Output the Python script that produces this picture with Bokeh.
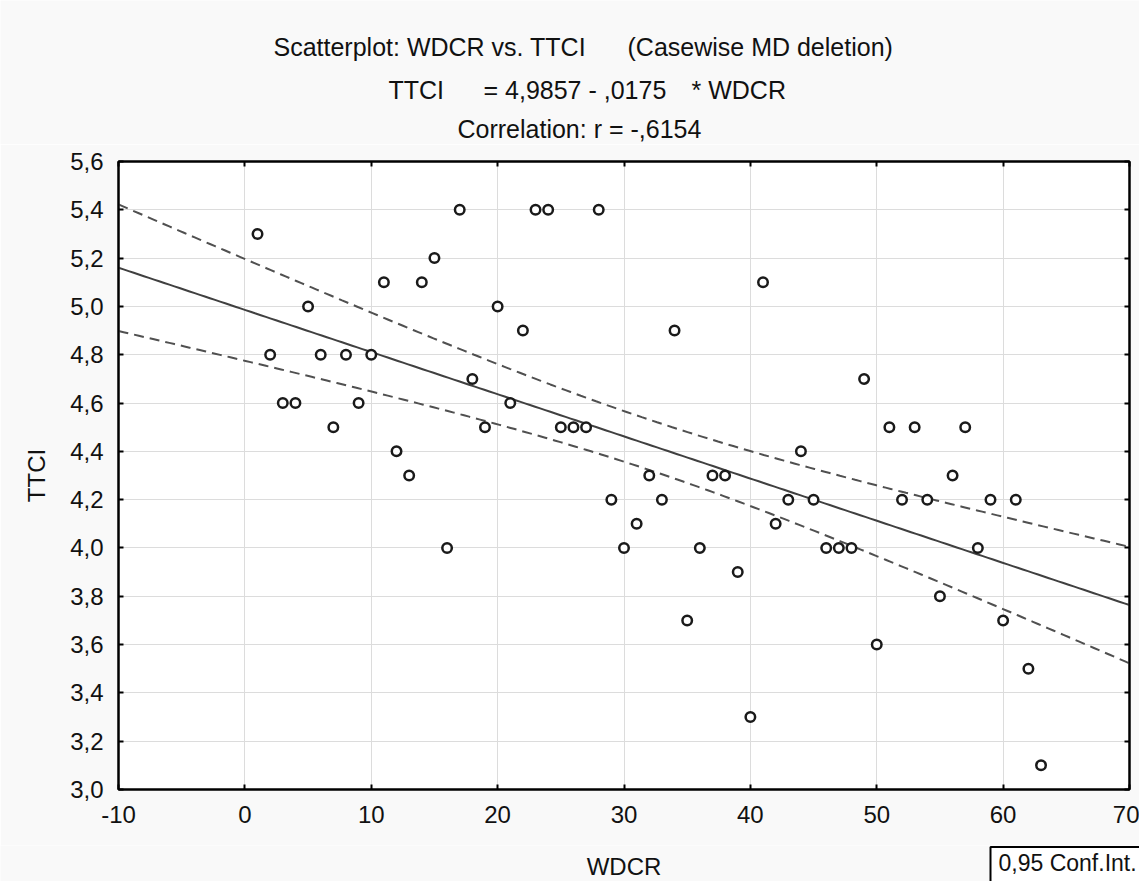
import numpy as np
from bokeh.plotting import figure
from bokeh.layouts import column
from bokeh.models import Label, LinearAxis, FixedTicker, Range1d, CustomJSTickFormatter
from bokeh.embed import file_html
from bokeh.resources import INLINE

# ---------------- data ----------------
wdcr = [1, 2, 3, 4, 5, 6, 7, 8, 9, 10,
        11, 12, 13, 14, 15, 16, 17, 18, 19, 20,
        21, 22, 23, 24, 25, 26, 27, 28, 29, 30,
        31, 32, 33, 34, 35, 36, 37, 38, 39, 40,
        41, 42, 43, 44, 45, 46, 47, 48, 49, 50,
        51, 52, 53, 54, 55, 56, 57, 58, 59, 60,
        61, 62, 63]
ttci = [5.3, 4.8, 4.6, 4.6, 5.0, 4.8, 4.5, 4.8, 4.6, 4.8,
        5.1, 4.4, 4.3, 5.1, 5.2, 4.0, 5.4, 4.7, 4.5, 5.0,
        4.6, 4.9, 5.4, 5.4, 4.5, 4.5, 4.5, 5.4, 4.2, 4.0,
        4.1, 4.3, 4.2, 4.9, 3.7, 4.0, 4.3, 4.3, 3.9, 3.3,
        5.1, 4.1, 4.2, 4.4, 4.2, 4.0, 4.0, 4.0, 4.7, 3.6,
        4.5, 4.2, 4.5, 4.2, 3.8, 4.3, 4.5, 4.0, 4.2, 3.7,
        4.2, 3.5, 3.1]

x_ticks = [-10, 0, 10, 20, 30, 40, 50, 60, 70]
x_tick_labels = ["-10", "0", "10", "20", "30", "40", "50", "60", "70"]
y_ticks = [3.0, 3.2, 3.4, 3.6, 3.8, 4.0, 4.2, 4.4, 4.6, 4.8, 5.0, 5.2, 5.4, 5.6]
y_tick_labels = ["3,0", "3,2", "3,4", "3,6", "3,8", "4,0", "4,2", "4,4", "4,6",
                 "4,8", "5,0", "5,2", "5,4", "5,6"]

title_1a = "Scatterplot: WDCR vs. TTCI"
title_1b = "(Casewise MD deletion)"
title_2a = "TTCI"
title_2b = "= 4,9857 - ,0175"
title_2c = "* WDCR"
title_3 = "Correlation: r = -,6154"
x_label = "WDCR"
y_label = "TTCI"
legend_label = "0,95 Conf.Int."

# ---------------- layout ----------------
W = 1139
H_TOP, H_MAIN, H_BOT = 144, 701, 36
ML, MR, MT, MB = 118, 10, 17, 56
X0, X1 = -10, 70
Y0, Y1 = 3.0, 5.6
FONT = "Liberation Sans"
TXT = "#111111"
BG = "#f9f9f9"


def text_strip(height, y_top):
    """A bare figure whose data units are the picture's pixels."""
    f = figure(width=W, height=height, y_range=Range1d(y_top + height, y_top),
               output_backend="svg", toolbar_location=None,
               x_axis_type=None, y_axis_type=None, min_border=0,
               background_fill_color=BG, border_fill_color=BG,
               outline_line_color=None)
    f.grid.visible = False
    try:
        f.frame_align = False
        f.x_range = Range1d(0, W)
        free = True
    except Exception:
        f.x_range = Range1d(ML, W - MR)
        free = False
    return f, free


def add_text(fig, txt, px, py, size="25px", align="left", **kw):
    fig.add_layout(Label(x=px, y=py, text=txt, text_font=FONT, text_font_size=size,
                         text_color=TXT, text_align=align, text_baseline="middle", **kw))


# ---- titles ----
top, _ = text_strip(H_TOP, 0)
add_text(top, title_1a, 273, 46.5)
add_text(top, title_1b, 627, 46.5)
add_text(top, title_2a, 388, 89.5)
add_text(top, title_2b, 483, 89.5)
add_text(top, title_2c, 691, 89.5)
add_text(top, title_3, 457, 128)

# ---- main plot ----
p = figure(width=W, height=H_MAIN, x_range=Range1d(X0, X1), y_range=Range1d(Y0, Y1),
           output_backend="svg", toolbar_location=None,
           min_border_left=ML, min_border_right=MR, min_border_top=MT, min_border_bottom=MB,
           background_fill_color="white", border_fill_color=BG,
           outline_line_color="black", outline_line_width=2)

fmt_x = CustomJSTickFormatter(args=dict(t=x_ticks, l=x_tick_labels), code="""
let b = 0; for (let i = 0; i < t.length; i++) { if (Math.abs(t[i]-tick) < Math.abs(t[b]-tick)) b = i; }
return l[b];""")
fmt_y = CustomJSTickFormatter(args=dict(t=y_ticks, l=y_tick_labels), code="""
let b = 0; for (let i = 0; i < t.length; i++) { if (Math.abs(t[i]-tick) < Math.abs(t[b]-tick)) b = i; }
return l[b];""")
blank = CustomJSTickFormatter(code="return '';")

for ax, tk, fm in ((p.xaxis[0], x_ticks, fmt_x), (p.yaxis[0], y_ticks, fmt_y)):
    ax.ticker = FixedTicker(ticks=tk)
    ax.formatter = fm
    ax.minor_tick_line_color = None
    ax.major_tick_in = 5
    ax.major_tick_out = 0
    ax.major_tick_line_width = 2
    ax.major_tick_line_color = "black"
    ax.axis_line_width = 2
    ax.axis_line_color = "black"
    ax.major_label_text_font = FONT
    ax.major_label_text_font_size = "24px"
    ax.major_label_text_color = TXT
    ax.axis_label_text_font = FONT
    ax.axis_label_text_font_size = "24px"
    ax.axis_label_text_font_style = "normal"
    ax.axis_label_text_color = TXT
p.xaxis[0].major_label_standoff = 16
p.yaxis[0].major_label_standoff = 15
p.yaxis[0].axis_label = y_label
p.yaxis[0].axis_label_standoff = 17

top_ax = LinearAxis(ticker=FixedTicker(ticks=x_ticks), formatter=blank,
                    major_tick_in=5, major_tick_out=0, minor_tick_line_color=None,
                    major_tick_line_width=2, axis_line_width=2,
                    major_label_standoff=0, major_label_text_font_size="1px")
right_ax = LinearAxis(ticker=FixedTicker(ticks=y_ticks), formatter=blank,
                      major_tick_in=5, major_tick_out=0, minor_tick_line_color=None,
                      major_tick_line_width=2, axis_line_width=2,
                      major_label_standoff=0, major_label_text_font_size="1px")
p.add_layout(top_ax, "above")
p.add_layout(right_ax, "right")

p.xgrid.ticker = FixedTicker(ticks=x_ticks)
p.ygrid.ticker = FixedTicker(ticks=y_ticks)
p.grid.grid_line_color = "#dcdcdc"
p.grid.grid_line_width = 1

# regression line + 95% confidence band, computed from the points
xa = np.array(wdcr, dtype=float)
ya = np.array(ttci, dtype=float)
n = len(xa)
slope, intercept = np.polyfit(xa, ya, 1)
resid = ya - (intercept + slope * xa)
s = np.sqrt(np.sum(resid ** 2) / (n - 2))
sxx = np.sum((xa - xa.mean()) ** 2)
t_crit = 1.9996  # t(0.975, df=61)
xs = np.linspace(X0, X1, 200)
fit = intercept + slope * xs
half = t_crit * s * np.sqrt(1.0 / n + (xs - xa.mean()) ** 2 / sxx)

p.line(xs, fit, line_color="#404040", line_width=2)
p.line(xs, fit + half, line_color="#505050", line_width=2, line_dash="10 6")
p.line(xs, fit - half, line_color="#505050", line_width=2, line_dash="10 6")

p.scatter(wdcr, ttci, marker="circle", size=9.5, fill_color="white",
          line_color="#1a1a1a", line_width=2.5)

# ---- bottom strip: x-axis title and legend box ----
bot, free = text_strip(H_BOT, H_TOP + H_MAIN)
add_text(bot, x_label, (ML + W - MR) / 2, 866, size="24px", align="center")
add_text(bot, legend_label, 990, 866, size="23px" if free else "21px",
         border_line_color="black", border_line_width=2, background_fill_color="white",
         padding=dict(left=8, right=6, top=3, bottom=10))

layout = column(top, p, bot, spacing=0)
open("out.html", "w").write(file_html(layout, INLINE))
